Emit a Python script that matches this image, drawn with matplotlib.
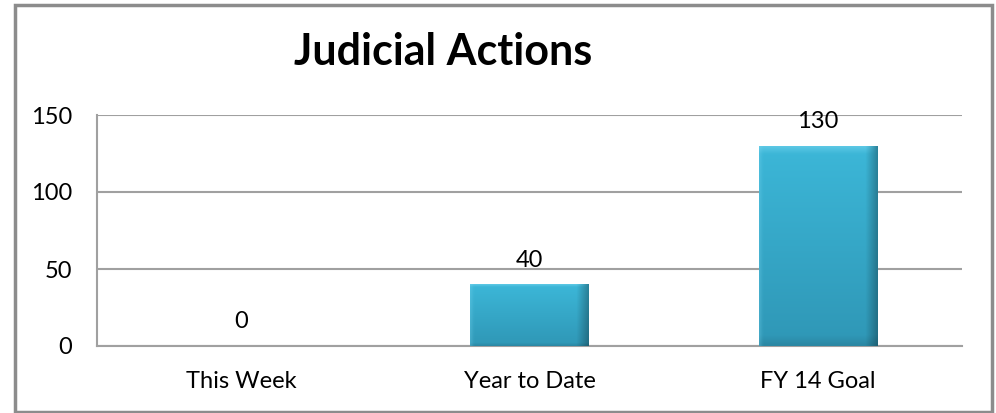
import matplotlib
matplotlib.use("Agg")
import matplotlib.pyplot as plt
import numpy as np
from matplotlib.colors import LinearSegmentedColormap
from matplotlib.patches import Rectangle

categories = ["This Week", "Year to Date", "FY 14 Goal"]
values = [0, 40, 130]
yticks = [0, 50, 100, 150]
title = "Judicial Actions"

plt.rcParams['font.family'] = ['Lato', 'DejaVu Sans']

fig = plt.figure(figsize=(9.96, 4.13), dpi=100)
ax = fig.add_axes([97/996, 1-346/413, (962-97)/996, (346-115)/413])

x = np.arange(len(categories))
bars = ax.bar(x, values, width=0.41, color="#35a9c9", edgecolor="none", zorder=3)

# gradient overlay on each bar
vgrad = LinearSegmentedColormap.from_list("v", ["#2f97b6", "#3cb7d8"])
for b in bars:
    h = b.get_height()
    if h <= 0:
        continue
    x0, w = b.get_x(), b.get_width()
    nx, ny = 80, 80
    xx = np.linspace(0, 1, nx)
    yy = np.linspace(0, 1, ny)
    X, Y = np.meshgrid(xx, yy)
    base = vgrad(Y)  # Y=0 bottom (dark), Y=1 top (light)
    shade = np.ones_like(X)
    shade *= 1 - 0.28 * np.clip((X - 0.9) / 0.1, 0, 1)
    shade *= 1 - 0.10 * np.clip((0.05 - Y) / 0.05, 0, 1)
    img = base.copy()
    img[..., :3] *= shade[..., None]
    top = np.clip((Y - 0.96) / 0.04, 0, 1) * (1 - np.clip((X - 0.9) / 0.1, 0, 1))
    img[..., :3] = img[..., :3] * (1 - 0.4 * top[..., None]) + 0.4 * top[..., None] * np.array([0.55, 0.88, 0.97])
    left = np.clip((0.03 - X) / 0.03, 0, 1)
    img[..., :3] = img[..., :3] * (1 - 0.25 * left[..., None]) + 0.25 * left[..., None] * np.array([0.5, 0.85, 0.95])
    im = ax.imshow(np.clip(img, 0, 1), extent=[x0, x0 + w, 0, h], origin="lower",
                   aspect="auto", zorder=4, interpolation="bilinear")
    im.set_clip_path(b)

for xi, v in zip(x, values):
    ax.annotate(str(v), (xi, v), xytext=(0, 10), textcoords="offset points",
                ha="center", va="bottom", fontsize=17, color="black", zorder=5,
                annotation_clip=False)

ax.set_xlim(-0.5, len(categories) - 0.5)
ax.set_ylim(0, 150)
ax.set_yticks(yticks)
ax.set_xticks(x)
ax.set_xticklabels(categories, fontsize=17)
ax.tick_params(axis="y", labelsize=17, length=0, pad=18)
ax.tick_params(axis="x", length=0, pad=18)
ax.yaxis.grid(True, color="#a0a0a0", linewidth=1.5, zorder=0)
ax.set_axisbelow(True)
for s in ["top", "right"]:
    ax.spines[s].set_visible(False)
ax.spines["left"].set_color("#a0a0a0")
ax.spines["left"].set_linewidth(1.5)
ax.spines["bottom"].set_color("#a0a0a0")
ax.spines["bottom"].set_linewidth(1.5)

fig.text(443/996, 1-52/413, title, ha="center", va="center", fontsize=31, fontweight="bold")

# outer frame
fig.patches.append(Rectangle((15/996, 1/413), (992-15)/996, (410-3)/413, transform=fig.transFigure,
                             fill=False, edgecolor="#8c8c8c", linewidth=2.5))

fig.savefig("out.png", dpi=100)
